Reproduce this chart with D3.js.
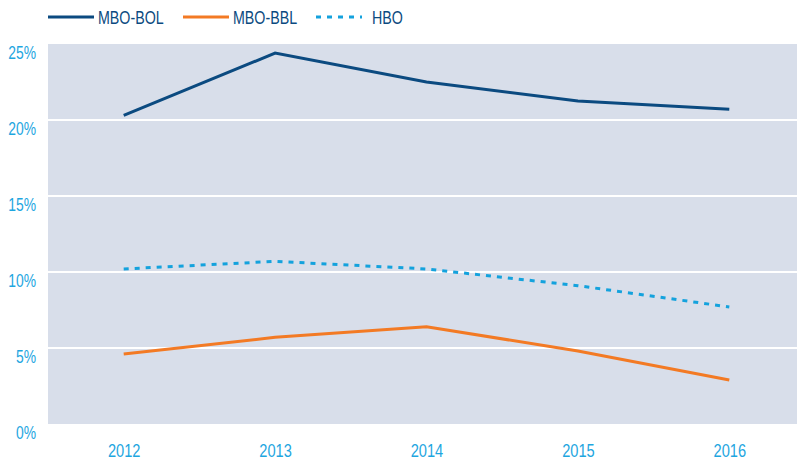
<!DOCTYPE html>
<html>
<head>
<meta charset="utf-8">
<script src="https://cdn.jsdelivr.net/npm/d3@7/dist/d3.min.js"></script>
<style>
  html, body { margin: 0; padding: 0; background: #fff; }
  svg { display: block; font-family: "Liberation Sans", Arial, sans-serif; }
</style>
</head>
<body>
<div id="chart"></div>
<script>
// --- data ---
const years = ["2012", "2013", "2014", "2015", "2016"];
const mboBol = [20.3, 24.4, 22.5, 21.25, 20.7];
const mboBbl = [4.6, 5.7, 6.4, 4.8, 2.9];
const hbo = [10.2, 10.7, 10.2, 9.1, 7.7];
const yTicks = [0, 5, 10, 15, 20, 25];

const series = [
    { name: "MBO-BOL", values: mboBol, color: "#0b4a80", dash: null },
    { name: "MBO-BBL", values: mboBbl, color: "#f37a24", dash: null },
    { name: "HBO", values: hbo, color: "#14a2dd", dash: "5,6" }
];

const W = 797, H = 460;
const plot = { left: 48, right: 805, top: 44, bottom: 424 };
const squeeze = 0.77; // the original uses a condensed face, so narrow the text

const svg = d3.select("#chart").append("svg")
    .attr("width", W)
    .attr("height", H);

const x = d3.scalePoint()
    .domain(years)
    .range([plot.left, plot.right])
    .padding(0.5);

const y = d3.scaleLinear()
    .domain([0, 25])
    .range([plot.bottom, plot.top]);

// plot background
svg.append("rect")
    .attr("x", plot.left)
    .attr("y", plot.top)
    .attr("width", W - plot.left)
    .attr("height", plot.bottom - plot.top)
    .attr("fill", "#d8deea");

// gridlines
svg.append("g")
    .selectAll("line")
    .data(yTicks.filter(d => d > 0 && d < 25))
    .join("line")
    .attr("x1", plot.left)
    .attr("x2", W)
    .attr("y1", d => y(d))
    .attr("y2", d => y(d))
    .attr("stroke", "#fff")
    .attr("stroke-width", 2);

// y axis labels
const yAxis = svg.append("g")
    .attr("transform", `translate(${plot.left},0)`)
    .call(d3.axisLeft(y).tickValues(yTicks).tickFormat(d => d + "%").tickSize(0));
yAxis.select(".domain").remove();
yAxis.selectAll("text")
    .attr("x", -12 / squeeze)
    .attr("y", 8)
    .attr("dy", "0.36em")
    .attr("transform", `scale(${squeeze},1)`)
    .attr("font-size", 18)
    .attr("font-family", null)
    .attr("fill", "#1ea6df");

// x axis labels
const xAxis = svg.append("g")
    .attr("transform", `translate(0,${plot.bottom})`)
    .call(d3.axisBottom(x).tickSize(0));
xAxis.select(".domain").remove();
xAxis.selectAll("text")
    .attr("y", 26)
    .attr("dy", "0.36em")
    .attr("transform", `scale(${squeeze},1)`)
    .attr("font-size", 19)
    .attr("font-family", null)
    .attr("fill", "#1ea6df");

// lines
const line = d3.line()
    .x((d, i) => x(years[i]))
    .y(d => y(d));

svg.append("g")
    .selectAll("path")
    .data(series)
    .join("path")
    .attr("d", d => line(d.values))
    .attr("fill", "none")
    .attr("stroke", d => d.color)
    .attr("stroke-width", 3)
    .attr("stroke-dasharray", d => d.dash);

// legend
const legendX = [48, 183, 316];
const legend = svg.append("g")
    .selectAll("g")
    .data(series)
    .join("g")
    .attr("transform", (d, i) => `translate(${legendX[i]},17)`);

legend.append("line")
    .attr("x1", 0)
    .attr("x2", 46)
    .attr("stroke", d => d.color)
    .attr("stroke-width", 3)
    .attr("stroke-dasharray", d => d.dash);

legend.append("text")
    .attr("x", (d, i) => (i === 2 ? 56 : 50) / squeeze)
    .attr("y", 7)
    .attr("transform", `scale(${squeeze},1)`)
    .attr("font-size", 18.5)
    .attr("fill", "#0b4a80")
    .text(d => d.name);
</script>
</body>
</html>
